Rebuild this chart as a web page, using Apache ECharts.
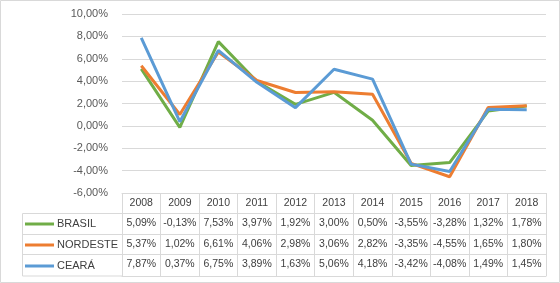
<!DOCTYPE html>
<html>
<head>
<meta charset="utf-8">
<script src="https://cdn.jsdelivr.net/npm/echarts@6/dist/echarts.min.js"></script>
<style>
  html, body { margin: 0; padding: 0; background: #fff; }
  #chart { width: 560px; height: 283px; }
</style>
</head>
<body>
<div id="chart"></div>
<script>
  // data
  const years = ['2008', '2009', '2010', '2011', '2012', '2013', '2014', '2015', '2016', '2017', '2018'];
  const brasil = [5.09, -0.13, 7.53, 3.97, 1.92, 3.00, 0.50, -3.55, -3.28, 1.32, 1.78];
  const nordeste = [5.37, 1.02, 6.61, 4.06, 2.98, 3.06, 2.82, -3.35, -4.55, 1.65, 1.80];
  const ceara = [7.87, 0.37, 6.75, 3.89, 1.63, 5.06, 4.18, -3.42, -4.08, 1.49, 1.45];
  const seriesNames = ['BRASIL', 'NORDESTE', 'CEARÁ'];
  const seriesData = [brasil, nordeste, ceara];
  const colors = ['#70ad47', '#ed7d31', '#5b9bd5'];

  const font = '"Liberation Sans", Arial, sans-serif';
  const gridColor = '#d9d9d9';
  const pct = v => v.toFixed(2).replace('.', ',') + '%';

  const myChart = echarts.init(document.getElementById('chart'));

  // row axes of the data table (one per series), stacked under the plot
  const rowOffsets = [20, 41, 61];
  const rowAxes = seriesData.map((d, k) => ({
    type: 'category',
    data: years,
    position: 'bottom',
    offset: rowOffsets[k],
    axisLine: {show: true, onZero: false, lineStyle: {color: gridColor}},
    axisTick: {show: false},
    axisLabel: {
      interval: 0,
      margin: 5,
      fontFamily: font, fontSize: 10.5, color: '#404040',
      formatter: (v, i) => pct(d[i])
    }
  }));

  myChart.setOption({
    animation: false,
    grid: {left: 122, right: 14, top: 14, bottom: 90},
    legend: {
      orient: 'vertical',
      left: 25,
      top: 217,
      padding: 0,
      itemGap: 7,
      itemWidth: 29,
      itemHeight: 3,
      icon: 'rect',
      textStyle: {fontFamily: font, fontSize: 11, color: '#404040', lineHeight: 14, padding: [0, 0, 0, -2]},
      data: seriesNames
    },
    xAxis: [
      {
        type: 'category',
        data: years,
        position: 'bottom',
        axisLine: {show: true, onZero: false, lineStyle: {color: gridColor}},
        axisTick: {show: true, interval: 0, length: 83, lineStyle: {color: gridColor}},
        axisLabel: {interval: 0, margin: 5, fontFamily: font, fontSize: 10.5, color: '#404040'}
      },
      ...rowAxes,
      {
        type: 'category',
        data: years,
        position: 'bottom',
        offset: 83,
        axisLine: {show: true, onZero: false, lineStyle: {color: gridColor}},
        axisTick: {show: false},
        axisLabel: {show: false}
      }
    ],
    yAxis: {
      type: 'value',
      min: -6,
      max: 10,
      interval: 2,
      axisLine: {show: false},
      axisTick: {show: false},
      splitLine: {lineStyle: {color: gridColor}},
      axisLabel: {
        showMinLabel: true,
        margin: 14, fontFamily: font, fontSize: 11, color: '#595959', formatter: pct
      }
    },
    series: seriesData.map((d, k) => ({
      name: seriesNames[k],
      type: 'line',
      data: d,
      showSymbol: false,
      color: colors[k],
      lineStyle: {width: 3, color: colors[k]}
    })),
    graphic: [
      // outer chart border
      {type: 'rect', shape: {x: 0.5, y: 0.5, width: 559, height: 282},
        style: {fill: 'none', stroke: gridColor, lineWidth: 1}, silent: true},
      // legend cells of the data table
      {type: 'rect', shape: {x: 22.5, y: 213.5, width: 100, height: 62.5},
        style: {fill: 'none', stroke: gridColor, lineWidth: 1}, silent: true},
      {type: 'line', shape: {x1: 22, y1: 234.5, x2: 122, y2: 234.5},
        style: {stroke: gridColor, lineWidth: 1}, silent: true},
      {type: 'line', shape: {x1: 22, y1: 254.5, x2: 122, y2: 254.5},
        style: {stroke: gridColor, lineWidth: 1}, silent: true}
    ]
  });
</script>
</body>
</html>
